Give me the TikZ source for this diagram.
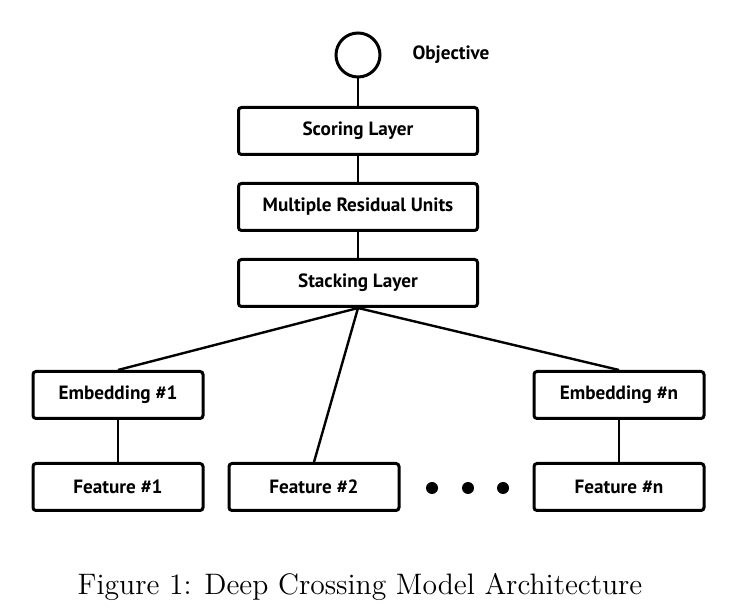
\documentclass[tikz,border=0pt]{standalone}
\usepackage{fontspec}
\newfontfamily\labelfont{PT Sans}
\usetikzlibrary{positioning}

\begin{document}
\begin{tikzpicture}[
            x = 0.5pt, y = -0.5pt, % one unit per pixel of the sketch
            semithick % line style
        ]

        \tikzstyle{layer}=[
            draw = black,
            line width = 1.5pt,
            fill = white,
            rounded corners = 1.5pt,
            minimum width = 119.5pt,
            minimum height = 23.5pt,
            font = \labelfont\bfseries\fontsize{9.6}{11}\selectfont
        ]
        \tikzstyle{input}=[layer, minimum width = 85pt]
        \tikzstyle{link}=[line width = 1.2pt]
        \tikzstyle{dot}=[circle, fill = black, inner sep = 0pt, minimum size = 6pt]

        \useasboundingbox (0,0) rectangle (743,613);

        \node[circle, draw, line width = 1.5pt, minimum size = 22pt] (O) at (358,55) {};
        \node[font = \labelfont\bfseries\fontsize{9.6}{11}\selectfont] (Olab) at (451,55) {Objective};

        \node[layer] (S) at (358,131) {Scoring Layer};
        \node[layer] (R) at (358,207) {Multiple Residual Units};
        \node[layer] (K) at (358,283) {Stacking Layer};

        \node[input] (E1) at (118,395) {Embedding \#1};
        \node[input] (En) at (619,395) {Embedding \#n};

        \node[input] (F1) at (118,487) {Feature \#1};
        \node[input] (F2) at (314,487) {Feature \#2};
        \node[input] (Fn) at (619,487) {Feature \#n};

        \node[dot] (d1) at (432,488) {};
        \node[dot] (d2) at (468,488) {};
        \node[dot] (d3) at (503,488) {};

        \path[link] (O) edge (S);
        \path[link] (S) edge (R);
        \path[link] (R) edge (K);
        \path[link] (K.south) edge (E1.north);
        \path[link] (K.south) edge (F2.north);
        \path[link] (K.south) edge (En.north);
        \path[link] (E1) edge (F1);
        \path[link] (En) edge (Fn);

        \node[font = \fontsize{14.8}{17}\selectfont] (cap) at (360,587) {Figure 1: Deep Crossing Model Architecture};
    \end{tikzpicture}
\end{document}
